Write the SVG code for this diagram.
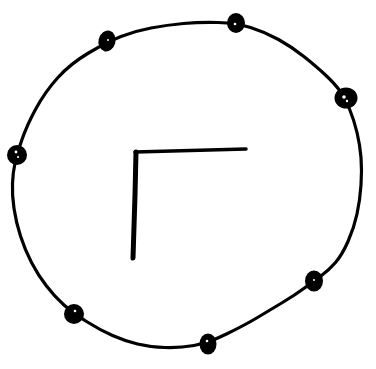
<svg xmlns="http://www.w3.org/2000/svg" width="376" height="369" viewBox="0 0 376 369">
<style>
.ring{fill:none;stroke:#000;stroke-width:3.2;stroke-linecap:round;stroke-linejoin:round}
.dot{fill:#000}
.hl{fill:#fff}
.gam{fill:none;stroke:#000;stroke-linecap:round;stroke-linejoin:round}
</style>
<rect width="376" height="369" fill="#fff"/>
<g id="connectors">
<path class="ring" d="M15,163 Q17,154 22,139.5 Q27,125 36,108.5 Q45,92 57.5,78 Q70,64 88.5,53 Q107,42 121,36.5 Q135,31 151,28 Q167,25 183.5,23.5 Q200,22 218,22.5 Q236,23 250.5,27.5 Q265,32 278.5,39.5 Q292,47 304.5,57 Q317,67 326,75.5 Q335,84 340,91 Q345,98 349.5,109 Q354,120 357,132.5 Q360,145 361,157.5 Q362,170 361,185 Q360,200 357,214 Q354,228 348,241.5 Q342,255 335.5,262.5 Q329,270 321.5,275.5 Q314,281 304.5,288 Q295,295 282.5,302.5 Q270,310 257.5,317.5 Q245,325 226.5,334 Q208,343 194,345.5 Q180,348 165,347.5 Q150,347 137.5,344 Q125,341 112.5,335.5 Q100,330 86.5,321.5 Q73,313 64,305 Q55,297 46.5,286 Q38,275 31.5,262.5 Q25,250 20.5,236 Q16,222 14,208.5 Q12,195 12.5,183.5 Q13,172 15,163 Z"/>
</g>
<g id="gamma">
<path class="gam" stroke-width="3.5" d="M135,152 L246,149"/>
<path class="gam" stroke-width="5" d="M136,152 L135,195 L133,258"/>
</g>
<g id="n1"><ellipse class="dot" cx="107" cy="41" rx="8.5" ry="10.5" transform="rotate(15 107 41)"/><circle class="hl" cx="108" cy="40" r="1"/></g>
<g id="n2"><ellipse class="dot" cx="236" cy="23" rx="9" ry="10"/><circle class="hl" cx="235" cy="24" r="1.3"/></g>
<g id="n3"><ellipse class="dot" cx="346" cy="98" rx="11.5" ry="10.5"/><circle class="hl" cx="344" cy="97" r="1.8"/><circle class="hl" cx="347" cy="101" r="1.2"/></g>
<g id="n4"><circle class="dot" cx="17" cy="155" r="10"/><circle class="hl" cx="16" cy="152" r="1.4"/><circle class="hl" cx="18" cy="157" r="1.1"/></g>
<g id="n5"><ellipse class="dot" cx="314" cy="281" rx="9" ry="10.5"/><circle class="hl" cx="314" cy="280" r="1"/></g>
<g id="n6"><circle class="dot" cx="74" cy="314" r="10"/><circle class="hl" cx="75" cy="311" r="1.3"/></g>
<g id="n7"><ellipse class="dot" cx="208" cy="344" rx="8.5" ry="10.5"/><circle class="hl" cx="207" cy="341" r="1.3"/></g>
</svg>
